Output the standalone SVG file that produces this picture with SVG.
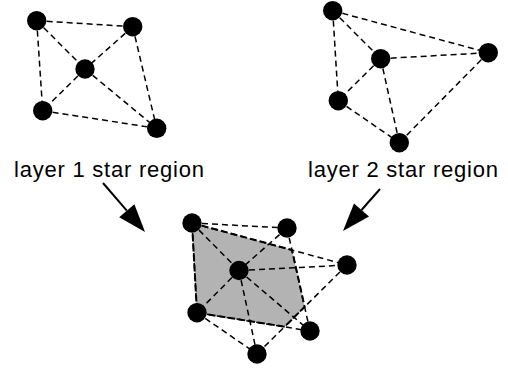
<svg xmlns="http://www.w3.org/2000/svg" width="508" height="368" viewBox="0 0 508 368">
<style>
.e{stroke:#000;stroke-width:1.5;stroke-dasharray:6 4;fill:none}
.n{fill:#000}
.reg{fill:#b3b3b3;stroke:#000;stroke-width:2;stroke-dasharray:7 3}
.lbl{font-family:"Liberation Sans",Arial,sans-serif;font-size:22px;fill:#000}
.arr{stroke:#000;stroke-width:2;fill:none}
</style>
<defs>
<marker id="ah" markerUnits="userSpaceOnUse" markerWidth="28" markerHeight="20" refX="0" refY="10" orient="auto" overflow="visible">
<path d="M0,0 L28,10 L0,20 z" fill="#000"/>
</marker>
</defs>
<rect width="508" height="368" fill="#fff"/>
<g id="region">
<polygon class="reg" points="192,223 292,250 304.6,306.9 284.7,326.7 197,312.7"/>
</g>
<g id="connectors">
<!-- layer 1 -->
<line class="e" x1="36.7" y1="20.7" x2="132.7" y2="26.7"/>
<line class="e" x1="36.7" y1="20.7" x2="85" y2="69"/>
<line class="e" x1="36.7" y1="20.7" x2="42.7" y2="110.7"/>
<line class="e" x1="132.7" y1="26.7" x2="85" y2="69"/>
<line class="e" x1="132.7" y1="26.7" x2="156.7" y2="128.3"/>
<line class="e" x1="85" y1="69" x2="42.7" y2="110.7"/>
<line class="e" x1="85" y1="69" x2="156.7" y2="128.3"/>
<line class="e" x1="42.7" y1="110.7" x2="156.7" y2="128.3"/>
<!-- layer 2 -->
<line class="e" x1="332.7" y1="10.7" x2="380.7" y2="58.7"/>
<line class="e" x1="332.7" y1="10.7" x2="488.3" y2="52.7"/>
<line class="e" x1="332.7" y1="10.7" x2="338.3" y2="100.7"/>
<line class="e" x1="380.7" y1="58.7" x2="488.3" y2="52.7"/>
<line class="e" x1="380.7" y1="58.7" x2="338.3" y2="100.7"/>
<line class="e" x1="380.7" y1="58.7" x2="399.3" y2="142.7"/>
<line class="e" x1="488.3" y1="52.7" x2="399.3" y2="142.7"/>
<line class="e" x1="338.3" y1="100.7" x2="399.3" y2="142.7"/>
<!-- combined -->
<line class="e" x1="192" y1="223" x2="287" y2="228"/>
<line class="e" x1="192" y1="223" x2="239" y2="270.5"/>
<line class="e" x1="192" y1="223" x2="347" y2="265"/>
<line class="e" x1="192" y1="223" x2="197" y2="312.7"/>
<line class="e" x1="287" y1="228" x2="239" y2="270.5"/>
<line class="e" x1="287" y1="228" x2="310" y2="331"/>
<line class="e" x1="239" y1="270.5" x2="347" y2="265"/>
<line class="e" x1="239" y1="270.5" x2="197" y2="312.7"/>
<line class="e" x1="239" y1="270.5" x2="310" y2="331"/>
<line class="e" x1="239" y1="270.5" x2="257" y2="354"/>
<line class="e" x1="347" y1="265" x2="257" y2="354"/>
<line class="e" x1="197" y1="312.7" x2="310" y2="331"/>
<line class="e" x1="197" y1="312.7" x2="257" y2="354"/>
<!-- arrows -->
<line class="arr" x1="103" y1="183" x2="126.8" y2="210.7" marker-end="url(#ah)"/>
<line class="arr" x1="380" y1="189" x2="361.5" y2="210" marker-end="url(#ah)"/>
</g>
<g id="layer1-nodes">
<circle id="l1a" class="n" cx="36.7" cy="20.7" r="9.7"/>
<circle id="l1b" class="n" cx="132.7" cy="26.7" r="9.7"/>
<circle id="l1c" class="n" cx="85" cy="69" r="9.7"/>
<circle id="l1d" class="n" cx="42.7" cy="110.7" r="9.7"/>
<circle id="l1e" class="n" cx="156.7" cy="128.3" r="9.7"/>
</g>
<g id="layer2-nodes">
<circle id="l2a" class="n" cx="332.7" cy="10.7" r="9.7"/>
<circle id="l2b" class="n" cx="380.7" cy="58.7" r="9.7"/>
<circle id="l2c" class="n" cx="488.3" cy="52.7" r="9.7"/>
<circle id="l2d" class="n" cx="338.3" cy="100.7" r="9.7"/>
<circle id="l2e" class="n" cx="399.3" cy="142.7" r="9.7"/>
</g>
<g id="combined-nodes">
<circle id="ca" class="n" cx="192" cy="223" r="9.7"/>
<circle id="cb" class="n" cx="287" cy="228" r="9.7"/>
<circle id="cc" class="n" cx="239" cy="270.5" r="9.7"/>
<circle id="cd" class="n" cx="347" cy="265" r="9.7"/>
<circle id="ce" class="n" cx="197" cy="312.7" r="9.7"/>
<circle id="cf" class="n" cx="310" cy="331" r="9.7"/>
<circle id="cg" class="n" cx="257" cy="354" r="9.7"/>
</g>
<g id="labels">
<text class="lbl" x="14" y="177" textLength="190" lengthAdjust="spacing">layer 1 star region</text>
<text class="lbl" x="308" y="177" textLength="190" lengthAdjust="spacing">layer 2 star region</text>
</g>
</svg>
